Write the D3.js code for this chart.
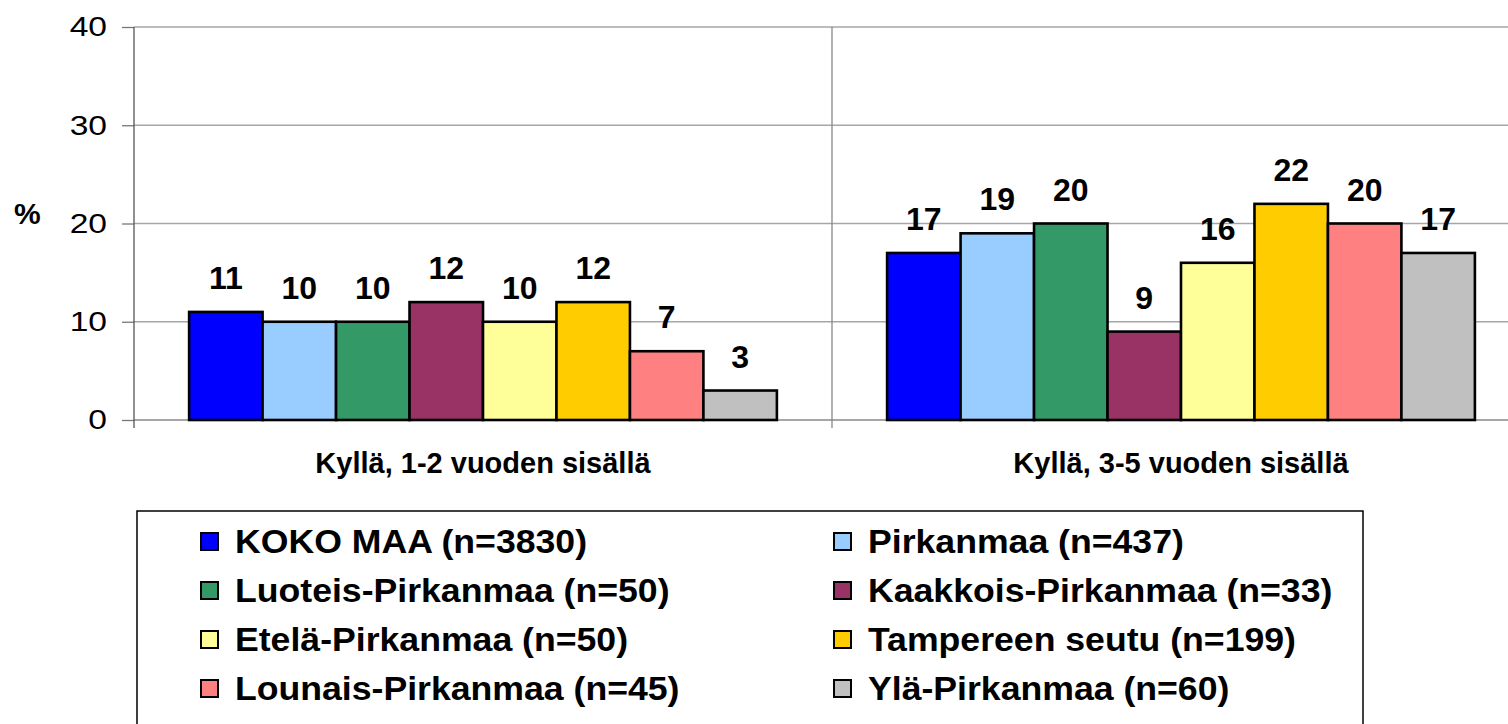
<!DOCTYPE html>
<html>
<head>
<meta charset="utf-8">
<script src="https://cdn.jsdelivr.net/npm/d3@7"></script>
<style>
  body { margin: 0; background: #fff; }
  svg { display: block; font-family: "Liberation Sans", Arial, sans-serif; }
</style>
</head>
<body>
<svg width="1508" height="724"></svg>
<script>
// data
const categories = ["Kyllä, 1-2 vuoden sisällä", "Kyllä, 3-5 vuoden sisällä"];
const series = [
  "KOKO MAA (n=3830)", "Pirkanmaa (n=437)",
  "Luoteis-Pirkanmaa (n=50)", "Kaakkois-Pirkanmaa (n=33)",
  "Etelä-Pirkanmaa (n=50)", "Tampereen seutu (n=199)",
  "Lounais-Pirkanmaa (n=45)", "Ylä-Pirkanmaa (n=60)"
];
const colors = ["#0000FF", "#99CCFF", "#339966", "#993366", "#FFFF99", "#FFCC00", "#FF8080", "#C0C0C0"];
const values12 = [11, 10, 10, 12, 10, 12, 7, 3];
const values35 = [17, 19, 20, 9, 16, 22, 20, 17];
const yTicks = [0, 10, 20, 30, 40];

const rows = categories.map((c, i) => ({
  cat: c,
  vals: (i === 0 ? values12 : values35).map((v, j) => ({ s: series[j], v }))
}));

const svg = d3.select("svg");
const plotLeft = 134, plotTop = 27, plotBottom = 420;
const catW = 698;

const x0 = d3.scaleBand(categories, [plotLeft, plotLeft + catW * 2]);
const x1 = d3.scaleBand(series, [0, x0.bandwidth()]).paddingInner(0).paddingOuter(0.75);
const y = d3.scaleLinear([0, 40], [plotBottom, plotTop]);
const color = d3.scaleOrdinal(series, colors);

// gridlines
svg.append("g").selectAll("line")
  .data(yTicks.filter(t => t > 0))
  .enter().append("line")
    .attr("x1", plotLeft).attr("x2", 1508)
    .attr("y1", d => y(d)).attr("y2", d => y(d))
    .attr("stroke", "#a6a6a6").attr("stroke-width", 1.3);

// category separator
svg.append("line")
  .attr("x1", x0(categories[1])).attr("x2", x0(categories[1]))
  .attr("y1", plotTop).attr("y2", plotBottom + 8)
  .attr("stroke", "#888").attr("stroke-width", 1.3);

// x axis line
svg.append("line")
  .attr("x1", plotLeft).attr("x2", 1508)
  .attr("y1", plotBottom).attr("y2", plotBottom)
  .attr("stroke", "#888").attr("stroke-width", 1.3);

// y axis
const yAxis = svg.append("g")
  .attr("transform", `translate(${plotLeft},0)`)
  .call(d3.axisLeft(y).tickValues(yTicks).tickSize(12).tickSizeOuter(0));
yAxis.select(".domain").remove();
yAxis.selectAll(".tick line").attr("stroke", "#777").attr("stroke-width", 1.3);
yAxis.selectAll(".tick text")
  .attr("fill", "#000")
  .style("font-size", "28px")
  .attr("x", -27 / 1.2)
  .attr("transform", "scale(1.2,1)");
svg.append("line")
  .attr("x1", plotLeft).attr("x2", plotLeft)
  .attr("y1", plotTop).attr("y2", plotBottom + 8)
  .attr("stroke", "#555").attr("stroke-width", 1.3);

svg.append("text")
  .attr("x", 14).attr("y", 224)
  .style("font-size", "30px").style("font-weight", "bold")
  .text("%");

// bars
const groups = svg.append("g").selectAll("g")
  .data(rows)
  .enter().append("g")
    .attr("transform", d => `translate(${x0(d.cat)},0)`);

groups.selectAll("rect")
  .data(d => d.vals)
  .enter().append("rect")
    .attr("x", d => x1(d.s))
    .attr("y", d => y(d.v))
    .attr("width", x1.bandwidth())
    .attr("height", d => y(0) - y(d.v))
    .attr("fill", d => color(d.s))
    .attr("stroke", "#000")
    .attr("stroke-width", 2.6);

groups.selectAll("text")
  .data(d => d.vals)
  .enter().append("text")
    .attr("x", d => x1(d.s) + x1.bandwidth() / 2)
    .attr("y", d => y(d.v) - 23)
    .attr("text-anchor", "middle")
    .style("font-size", "32px").style("font-weight", "bold")
    .text(d => d.v);

// category labels
svg.append("g").selectAll("text")
  .data(categories)
  .enter().append("text")
    .attr("x", d => x0(d) + x0.bandwidth() / 2)
    .attr("y", 473)
    .attr("text-anchor", "middle")
    .style("font-size", "29px").style("font-weight", "bold")
    .text(d => d);

// legend
svg.append("rect")
  .attr("x", 137).attr("y", 511)
  .attr("width", 1226).attr("height", 260)
  .attr("fill", "none").attr("stroke", "#000").attr("stroke-width", 1.5);

const legend = svg.append("g").selectAll("g")
  .data(series)
  .enter().append("g")
    .attr("transform", (d, i) => `translate(${i % 2 ? 834 : 201},${541 + Math.floor(i / 2) * 49})`);

legend.append("rect")
  .attr("x", 0).attr("y", -8)
  .attr("width", 17).attr("height", 17)
  .attr("fill", d => color(d))
  .attr("stroke", "#000").attr("stroke-width", 2);

legend.append("text")
  .attr("transform", "translate(34,0) scale(1.08,1)")
  .attr("dy", "0.36em")
  .style("font-size", "33px").style("font-weight", "bold")
  .text(d => d);
</script>
</body>
</html>
